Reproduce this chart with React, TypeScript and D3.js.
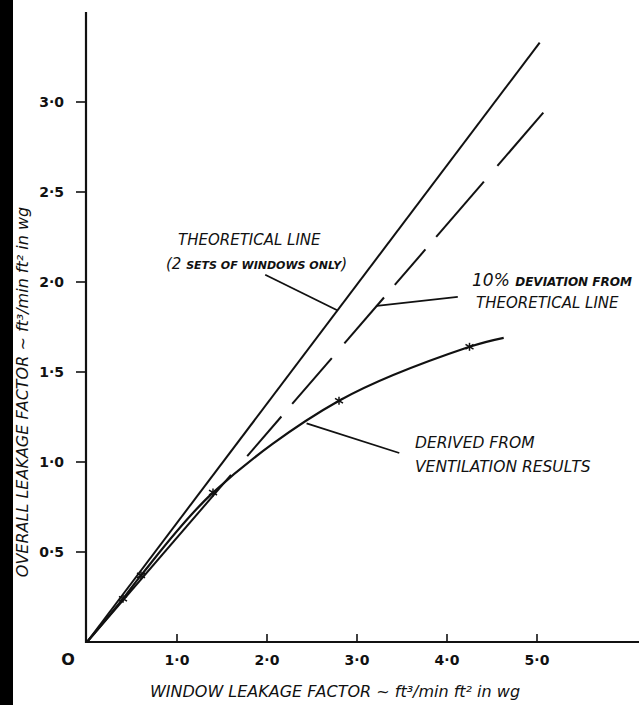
import React, { useEffect, useRef } from 'react';
import * as d3 from 'd3';

// --- data ---
const xTicks = [1, 2, 3, 4, 5];
const xTickLabels = ['1·0', '2·0', '3·0', '4·0', '5·0'];
const yTicks = [0.5, 1, 1.5, 2, 2.5, 3];
const yTickLabels = ['0·5', '1·0', '1·5', '2·0', '2·5', '3·0'];

// theoretical line (2 sets of windows only)
const theoretical = [[0, 0], [5.03, 3.33]];
// 10% deviation line: slope and the visible dash pieces (x ranges)
const deviationSlope = 0.58;
const deviationDashes = [[0, 1.6], [1.78, 2.16], [2.28, 2.72], [2.86, 3.3], [3.42, 3.76], [3.88, 4.41], [4.56, 5.07]];
// derived from ventilation results
const derivedX = [0, 0.4, 0.6, 1.4, 2.8, 4.25, 4.63];
const derivedY = [0, 0.24, 0.37, 0.83, 1.34, 1.64, 1.69];
const markedPoints = [1, 2, 3, 4, 5]; // indexes drawn with a star

export default function App() {
  const svgRef = useRef(null);
  const width = 639;
  const height = 705;

  useEffect(() => {
    const svg = d3.select(svgRef.current);
    svg.selectAll('*').remove();

    const x = d3.scaleLinear().domain([0, 6]).range([87, 627]);
    const y = d3.scaleLinear().domain([0, 3.5]).range([642, 12]);
    const ink = '#111';
    const font = '"DejaVu Sans", sans-serif';

    svg.append('rect').attr('width', width).attr('height', height).attr('fill', '#fff');
    // scanned page edge
    svg.append('rect').attr('x', 0).attr('y', 0).attr('width', 13).attr('height', height).attr('fill', '#000');

    // axes
    svg.append('line').attr('x1', 86).attr('x2', 86).attr('y1', y(3.5)).attr('y2', y(0) + 1)
      .attr('stroke', ink).attr('stroke-width', 2.2);
    svg.append('line').attr('x1', 86).attr('x2', width).attr('y1', y(0)).attr('y2', y(0))
      .attr('stroke', ink).attr('stroke-width', 2.2);

    svg.selectAll('.yt').data(yTicks).join('line')
      .attr('x1', 76).attr('x2', 86).attr('y1', d => y(d)).attr('y2', d => y(d))
      .attr('stroke', ink).attr('stroke-width', 1.6);
    svg.selectAll('.ytl').data(yTicks).join('text')
      .attr('x', 64).attr('y', d => y(d)).attr('dy', '0.35em')
      .attr('text-anchor', 'end').attr('font-family', font).attr('font-size', 14)
      .attr('font-weight', 'bold').attr('fill', ink)
      .text((d, i) => yTickLabels[i]);

    svg.selectAll('.xt').data(xTicks).join('line')
      .attr('x1', d => x(d)).attr('x2', d => x(d)).attr('y1', y(0)).attr('y2', y(0) - 8)
      .attr('stroke', ink).attr('stroke-width', 1.6);
    svg.selectAll('.xtl').data(xTicks).join('text')
      .attr('x', d => x(d)).attr('y', y(0) + 23)
      .attr('text-anchor', 'middle').attr('font-family', font).attr('font-size', 14)
      .attr('font-weight', 'bold').attr('fill', ink)
      .text((d, i) => xTickLabels[i]);
    svg.append('text').attr('x', 68).attr('y', y(0) + 23).attr('text-anchor', 'middle')
      .attr('font-family', font).attr('font-size', 16).attr('font-weight', 'bold').attr('fill', ink).text('O');

    // axis titles
    svg.append('text').attr('x', 335).attr('y', 697).attr('text-anchor', 'middle')
      .attr('font-family', font).attr('font-style', 'italic').attr('font-size', 16).attr('fill', ink)
      .text('WINDOW LEAKAGE FACTOR ~ ft³/min ft² in wg');
    svg.append('text').attr('transform', 'translate(28,392) rotate(-90)').attr('text-anchor', 'middle')
      .attr('font-family', font).attr('font-style', 'italic').attr('font-size', 16).attr('fill', ink)
      .text('OVERALL LEAKAGE FACTOR ~ ft³/min ft² in wg');

    const line = d3.line().x(d => x(d[0])).y(d => y(d[1]));

    // theoretical line
    svg.append('path').attr('d', line(theoretical)).attr('fill', 'none')
      .attr('stroke', ink).attr('stroke-width', 2);

    // 10% deviation line (dashed)
    svg.selectAll('.dev').data(deviationDashes).join('path')
      .attr('d', d => line([[d[0], d[0] * deviationSlope], [d[1], d[1] * deviationSlope]]))
      .attr('fill', 'none').attr('stroke', ink).attr('stroke-width', 2);

    // derived curve
    const pts = derivedX.map((v, i) => [v, derivedY[i]]);
    svg.append('path').attr('d', line.curve(d3.curveCatmullRom)(pts)).attr('fill', 'none')
      .attr('stroke', ink).attr('stroke-width', 2.2);
    markedPoints.forEach(i => {
      const px = x(derivedX[i]);
      const py = y(derivedY[i]);
      const r = 4;
      const g = svg.append('g').attr('stroke', ink).attr('stroke-width', 1.5);
      g.append('line').attr('x1', px).attr('x2', px).attr('y1', py - r).attr('y2', py + r);
      g.append('line').attr('x1', px - r).attr('x2', px + r).attr('y1', py - r * 0.6).attr('y2', py + r * 0.6);
      g.append('line').attr('x1', px - r).attr('x2', px + r).attr('y1', py + r * 0.6).attr('y2', py - r * 0.6);
    });

    // annotations
    const ann = svg.append('g').attr('font-family', font).attr('font-style', 'italic').attr('fill', ink);
    ann.append('text').attr('x', 178).attr('y', 245).attr('font-size', 15).text('THEORETICAL LINE');
    const t2 = ann.append('text').attr('x', 166).attr('y', 269).attr('font-size', 11).attr('font-weight', 'bold');
    t2.append('tspan').attr('font-size', 15).attr('font-weight', 'normal').text('(2 ');
    t2.append('tspan').text('SETS OF WINDOWS ONLY');
    t2.append('tspan').attr('font-size', 15).attr('font-weight', 'normal').text(')');

    const t3 = ann.append('text').attr('x', 472).attr('y', 286).attr('font-size', 12).attr('font-weight', 'bold');
    t3.append('tspan').attr('font-size', 17).attr('font-weight', 'normal').text('10% ');
    t3.append('tspan').text('DEVIATION FROM');
    ann.append('text').attr('x', 476).attr('y', 308).attr('font-size', 15).text('THEORETICAL LINE');

    ann.append('text').attr('x', 415).attr('y', 448).attr('font-size', 15.5).text('DERIVED FROM');
    ann.append('text').attr('x', 415).attr('y', 472).attr('font-size', 15.5).text('VENTILATION RESULTS');

    // leader lines
    const leaders = [
      [[1.98, 2.04], [2.78, 2.78 * 0.663]],
      [[3.22, 3.22 * deviationSlope], [4.12, 1.917]],
      [[2.44, 1.215], [3.47, 1.05]],
    ];
    svg.selectAll('.lead').data(leaders).join('path')
      .attr('d', d => line.curve(d3.curveLinear)(d))
      .attr('fill', 'none').attr('stroke', ink).attr('stroke-width', 1.8);
  }, []);

  return (
    <svg ref={svgRef} width={width} height={height}
      style={{ position: 'absolute', left: 0, top: 0, display: 'block' }} />
  );
}
